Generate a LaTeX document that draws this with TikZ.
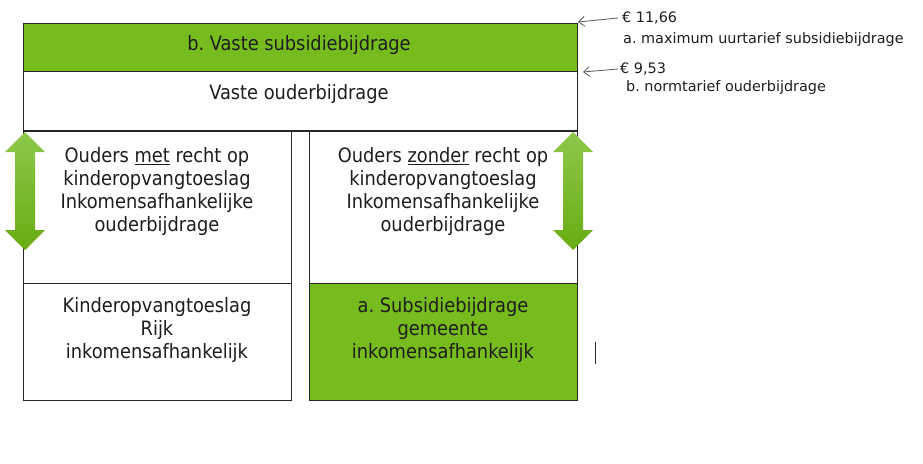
\documentclass[tikz,border=0pt]{standalone}
\usepackage{fontspec}
\setmainfont{DejaVu Sans Condensed}
\newfontfamily\notefont{DejaVu Sans}
\usepackage{tikz}
\usetikzlibrary{arrows.meta, positioning}

\definecolor{subgreen}{HTML}{77BC1F}
\definecolor{arrowtop}{HTML}{8DC84A}
\definecolor{arrowbot}{HTML}{68AC12}
\definecolor{linegray}{HTML}{262626}
\definecolor{textgray}{HTML}{1E1E1E}

\tikzset{
  boxtext/.style={align=center, font=\fontsize{19.8}{23}\selectfont, text=textgray},
  notetext/.style={anchor=west, inner sep=0pt, font=\notefont\fontsize{14.4}{17}\selectfont, text=textgray},
  notearrow/.style={-{Straight Barb[length=6pt, width=10pt]}, gray!70!black, line width=0.8pt},
  bigarrow/.style={top color=arrowtop, bottom color=arrowbot, draw=none},
  boxline/.style={draw=linegray, line width=1pt},
}

\begin{document}
\begin{tikzpicture}[x=1pt, y=-1pt]
    \useasboundingbox[fill=white] (0,0) rectangle (923,463);
    % Top boxes
    \fill[subgreen]  (23, 23) rectangle (577, 71);
    \draw[boxline]   (23, 23) rectangle (577, 71);
    \draw[boxline]   (23, 71) rectangle (577, 131);
    % Column boxes
    \fill[subgreen]  (309, 283) rectangle (577, 400);
    \draw[boxline]   (23, 131) rectangle (291, 400);
    \draw[boxline]   (23, 283) -- (291, 283);
    \draw[boxline]   (309, 131) rectangle (577, 400);
    \draw[boxline]   (309, 283) -- (577, 283);
    \draw[boxline, line width=1.8pt] (23, 131) -- (577, 131);
    % Labels inside boxes
    \node[boxtext] (vastesub) at (299, 45) {b.\ Vaste subsidiebijdrage};
    \node[boxtext] (vasteoud) at (299, 94) {Vaste ouderbijdrage};
    \node[boxtext] (metrecht)    at (157, 192) {Ouders \underline{met} recht op\\kinderopvangtoeslag\\Inkomensafhankelijke\\ouderbijdrage};
    \node[boxtext] (zonderrecht) at (443, 192) {Ouders \underline{zonder} recht op\\kinderopvangtoeslag\\Inkomensafhankelijke\\ouderbijdrage};
    \node[boxtext] (toeslag)  at (157, 330) {Kinderopvangtoeslag\\Rijk\\inkomensafhankelijk};
    \node[boxtext] (gemeente) at (443, 330) {a.\ Subsidiebijdrage\\gemeente\\inkomensafhankelijk};
    % Double arrows
    \shade[bigarrow] (25, 132) -- (45, 152) -- (35, 152) -- (35, 230) -- (45, 230) -- (25, 250)
        -- (5, 230) -- (15, 230) -- (15, 152) -- (5, 152) -- cycle;
    \shade[bigarrow] (573, 132) -- (593, 152) -- (583, 152) -- (583, 230) -- (593, 230) -- (573, 250)
        -- (553, 230) -- (563, 230) -- (563, 152) -- (553, 152) -- cycle;
    % Tariffs on the right
    \coordinate (maxtop) at (578, 22);
    \coordinate (normtop) at (583, 72);
    \node[notetext] (maxbedrag)  at (622, 18) {€ 11,66};
    \node[notetext] (maxlabel)   at (623, 40) {a.\ maximum uurtarief subsidiebijdrage};
    \node[notetext] (normbedrag) at (620, 69) {€ 9,53};
    \node[notetext] (normlabel)  at (626, 88) {b.\ normtarief ouderbijdrage};
    \draw[notearrow] ([xshift=-4pt]maxbedrag.west) -- (maxtop);
    \draw[notearrow] ([xshift=-2pt]normbedrag.west) -- (normtop);
    % Stray mark
    \draw[linegray, line width=1pt] (595, 342) -- (595, 364);
\end{tikzpicture}
\end{document}
